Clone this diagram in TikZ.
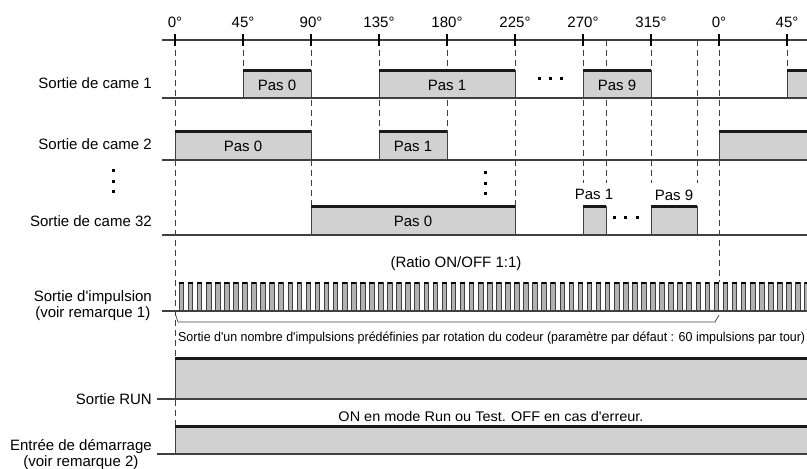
\documentclass[tikz,border=0pt]{standalone}
\usepackage{fontspec}
\setmainfont{Liberation Sans}
\usepackage{graphicx}
\usetikzlibrary{positioning}

% one step of a cam output: x1, x2, high level, base level
\newcommand{\camstep}[4]{%
  \filldraw[boxfill] (#1,#4) rectangle (#2,#3);
  \draw[hi] (#1,#3) -- (#2,#3);
}
\newcommand{\apos}{\textquotesingle}

\begin{document}
\begin{tikzpicture}[x=1pt, y=-1pt,
    lbl/.style={font=\fontsize{15}{16}\selectfont, anchor=east, inner sep=0pt},
    txt/.style={font=\fontsize{15}{16}\selectfont, inner sep=0pt},
    base/.style={black!75, line width=1.2pt},
    hi/.style={black!90, line width=3pt},
    guide/.style={black!75, dash pattern=on 6pt off 4pt, line width=0.8pt},
    boxfill/.style={fill=black!18, draw=black!75, line width=0.8pt}]

    \useasboundingbox (0,0) rectangle (807,469);

    % Guide lines (dashed)
    \foreach \x/\y in {175/426, 243/70, 311/206, 379/131, 447/131, 515/206,
                       583/183, 606/183, 651/183, 697/183, 719/282, 787/70} {
      \draw[guide] (\x,40) -- (\x,\y);
    }

    % Angle axis
    \draw[base] (162,40) -- (807,40);
    \foreach \x/\d [count=\k] in {175/0, 243/45, 311/90, 379/135, 447/180,
                                  515/225, 583/270, 651/315, 719/0, 787/45} {
      \draw[black, line width=1.2pt] (\x,34) -- (\x,46);
      \node[txt] (deg\k) at (\x,22) {\d°};
    }

    % Cam output 1
    \node[lbl] (came1) at (152,83) {Sortie de came 1};
    \camstep{243}{311}{70}{98}
    \camstep{379}{515}{70}{98}
    \camstep{583}{651}{70}{98}
    \camstep{787}{812}{70}{98}
    \draw[base] (162,98) -- (807,98);
    \node[txt] (c1p0) at (277,85) {Pas 0};
    \node[txt] (c1p1) at (447,85) {Pas 1};
    \node[txt] (c1p9) at (617,85) {Pas 9};
    \foreach \x in {539,550,561} \fill (\x-1.5,77) rectangle ++(3,3);

    % Cam output 2
    \node[lbl] (came2) at (152,144) {Sortie de came 2};
    \camstep{175}{311}{131}{160}
    \camstep{379}{447}{131}{160}
    \camstep{719}{812}{131}{160}
    \draw[base] (162,160) -- (807,160);
    \node[txt] (c2p0) at (243,146) {Pas 0};
    \node[txt] (c2p1) at (413,146) {Pas 1};

    % Vertical dots
    \foreach \y in {170,181,191} \fill (111.5,\y-1.5) rectangle ++(3,3);
    \foreach \y in {172,183,193} \fill (483.5,\y-1.5) rectangle ++(3,3);

    % Cam output 32
    \node[lbl] (came32) at (152,221) {Sortie de came 32};
    \camstep{311}{515}{206}{235}
    \camstep{583}{606}{206}{235}
    \camstep{651}{697}{206}{235}
    \draw[base] (162,235) -- (807,235);
    \node[txt] (c32p0) at (413,221) {Pas 0};
    \node[txt] (c32p1) at (594,194) {Pas 1};
    \node[txt] (c32p9) at (674,195) {Pas 9};
    \foreach \x in {614,625,637} \fill (\x-1.5,216) rectangle ++(3,3);

    % Pulse output
    \node[lbl, align=center] (imp) at (152,306) {Sortie d\apos impulsion\\(voir remarque 1)};
    \node[txt] (ratio) at (456,264) {(Ratio ON/OFF 1:1)};
    \foreach \i in {0,...,69} {
      \filldraw[fill=black!30, draw=black!75, line width=0.5pt] ({179+9.0667*\i},311) rectangle ++(4.6,-29);
      \draw[black, line width=2.6pt] ({179+9.0667*\i},283) -- ++(4.6,0);
    }
    \draw[base] (162,311) -- (807,311);
    \draw[black!75, line width=0.7pt] (175,313) -- (178,322) -- (715,322) -- (719,315);
    \node[anchor=west, inner sep=0pt] (nbimp) at (178,338)
      {\resizebox{627pt}{\height}{\fontsize{13}{15}\selectfont Sortie d\apos un nombre d\apos impulsions prédéfinies par rotation du codeur (paramètre par défaut : 60 impulsions par tour)}};

    % RUN output
    \node[lbl] (run) at (152,399) {Sortie RUN};
    \camstep{175}{812}{358}{399}
    \draw[base] (157,399) -- (807,399);
    \node[inner sep=0pt] (onoff) at (491,416)
      {\resizebox{305pt}{\height}{\fontsize{14}{16}\selectfont ON en mode Run ou Test. OFF en cas d\apos erreur.}};

    % Start input
    \node[lbl, align=center] (start) at (152,455) {Entrée de démarrage\\(voir remarque 2)};
    \camstep{175}{812}{426}{454}
    \draw[base] (157,454) -- (807,454);
  \end{tikzpicture}
\end{document}
